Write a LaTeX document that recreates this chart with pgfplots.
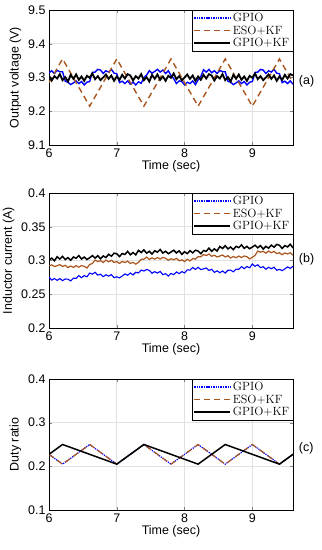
\documentclass[border=0pt]{standalone}
\usepackage{pgfplots}
\pgfplotsset{compat=1.18}
\usepackage{pgfplotstable}
\usepackage{fontspec}
\setsansfont{Liberation Sans}
\definecolor{brownc}{RGB}{170,85,30}
\definecolor{gridc}{RGB}{225,225,225}

\pgfplotstableread{
x aK aG bK bE bG
6.00 9.306 9.314 0.3006 0.2920 0.2755
6.04 9.291 9.320 0.3035 0.2936 0.2710
6.08 9.304 9.312 0.2995 0.2911 0.2733
6.12 9.297 9.321 0.3056 0.2923 0.2706
6.16 9.310 9.317 0.3021 0.2939 0.2732
6.20 9.292 9.317 0.3061 0.2911 0.2702
6.24 9.301 9.289 0.3014 0.2929 0.2726
6.28 9.288 9.286 0.3043 0.2895 0.2723
6.32 9.308 9.279 0.3003 0.2918 0.2698
6.36 9.296 9.284 0.3052 0.2898 0.2739
6.40 9.309 9.290 0.3033 0.2923 0.2735
6.44 9.293 9.282 0.3073 0.2901 0.2776
6.48 9.303 9.288 0.3022 0.2924 0.2745
6.52 9.290 9.278 0.3051 0.2914 0.2777
6.56 9.305 9.286 0.3015 0.2889 0.2758
6.60 9.299 9.288 0.3040 0.2941 0.2814
6.64 9.312 9.315 0.3072 0.2955 0.2798
6.68 9.295 9.316 0.3036 0.3007 0.2826
6.72 9.304 9.324 0.3072 0.2984 0.2783
6.76 9.292 9.322 0.3024 0.2998 0.2797
6.80 9.300 9.312 0.3068 0.2971 0.2760
6.84 9.309 9.320 0.3044 0.3006 0.2789
6.88 9.296 9.316 0.3092 0.2980 0.2768
6.92 9.306 9.324 0.3064 0.3003 0.2791
6.96 9.290 9.313 0.3108 0.2971 0.2745
7.00 9.303 9.311 0.3100 0.2985 0.2759
7.04 9.293 9.285 0.3058 0.2957 0.2742
7.08 9.308 9.289 0.3103 0.2985 0.2770
7.12 9.297 9.282 0.3089 0.2970 0.2801
7.16 9.310 9.290 0.3135 0.2991 0.2781
7.20 9.306 9.280 0.3085 0.2957 0.2815
7.24 9.291 9.286 0.3118 0.2972 0.2786
7.28 9.304 9.278 0.3084 0.2946 0.2826
7.32 9.297 9.287 0.3150 0.2973 0.2815
7.36 9.310 9.283 0.3118 0.3018 0.2858
7.40 9.292 9.299 0.3157 0.3019 0.2844
7.44 9.301 9.307 0.3109 0.3051 0.2868
7.48 9.288 9.320 0.3136 0.3016 0.2853
7.52 9.308 9.313 0.3096 0.3039 0.2811
7.56 9.296 9.318 0.3144 0.3020 0.2835
7.60 9.309 9.324 0.3123 0.3044 0.2814
7.64 9.293 9.316 0.3163 0.3022 0.2838
7.68 9.303 9.322 0.3110 0.3045 0.2790
7.72 9.290 9.312 0.3138 0.3034 0.2805
7.76 9.305 9.320 0.3101 0.3002 0.2769
7.80 9.299 9.306 0.3125 0.3026 0.2808
7.84 9.312 9.297 0.3152 0.3010 0.2791
7.88 9.295 9.282 0.3112 0.3033 0.2831
7.92 9.304 9.290 0.3143 0.2996 0.2805
7.96 9.292 9.288 0.3091 0.3010 0.2836
8.00 9.300 9.278 0.3130 0.2984 0.2816
8.04 9.309 9.286 0.3102 0.3019 0.2862
8.08 9.296 9.282 0.3146 0.2993 0.2857
8.12 9.306 9.290 0.3113 0.3029 0.2897
8.16 9.290 9.279 0.3153 0.3020 0.2868
8.20 9.303 9.293 0.3140 0.3058 0.2899
8.24 9.293 9.303 0.3100 0.3055 0.2865
8.28 9.308 9.323 0.3148 0.3088 0.2876
8.32 9.297 9.316 0.3136 0.3074 0.2890
8.36 9.310 9.324 0.3184 0.3096 0.2853
8.40 9.306 9.314 0.3136 0.3062 0.2870
8.44 9.291 9.320 0.3172 0.3078 0.2824
8.48 9.304 9.312 0.3140 0.3053 0.2847
8.52 9.297 9.321 0.3208 0.3066 0.2819
8.56 9.310 9.317 0.3178 0.3081 0.2845
8.60 9.292 9.317 0.3219 0.3053 0.2814
8.64 9.301 9.289 0.3172 0.3071 0.2855
8.68 9.288 9.286 0.3200 0.3037 0.2857
8.72 9.308 9.279 0.3161 0.3060 0.2832
8.76 9.296 9.284 0.3210 0.3041 0.2873
8.80 9.309 9.290 0.3191 0.3066 0.2869
8.84 9.293 9.282 0.3232 0.3044 0.2910
8.88 9.303 9.288 0.3180 0.3067 0.2879
8.92 9.290 9.278 0.3209 0.3056 0.2911
8.96 9.305 9.286 0.3174 0.3024 0.2892
9.00 9.299 9.288 0.3199 0.3048 0.2948
9.04 9.312 9.315 0.3227 0.3075 0.2914
9.08 9.295 9.316 0.3188 0.3140 0.2937
9.12 9.304 9.324 0.3221 0.3123 0.2894
9.16 9.292 9.322 0.3170 0.3136 0.2908
9.20 9.300 9.312 0.3210 0.3108 0.2871
9.24 9.309 9.320 0.3183 0.3141 0.2900
9.28 9.296 9.316 0.3228 0.3114 0.2878
9.32 9.306 9.324 0.3197 0.3136 0.2901
9.36 9.290 9.313 0.3238 0.3102 0.2855
9.40 9.303 9.311 0.3226 0.3115 0.2869
9.44 9.293 9.285 0.3179 0.3086 0.2850
9.48 9.308 9.289 0.3220 0.3112 0.2876
9.52 9.297 9.282 0.3201 0.3096 0.2905
9.56 9.310 9.290 0.3241 0.3116 0.2883
9.60 9.306 9.280 0.3186 0.3080 0.2915
}\data

\tikzset{lab/.style={anchor=west, font=\sffamily\fontsize{12.5}{14}\selectfont}}
\pgfplotsset{
  panel/.style={
    scale only axis, width=244bp, height=135bp,
    xmin=6, xmax=9.6, xtick={6,7,8,9},
    clip mode=individual,
    font=\sffamily\fontsize{12.5}{14}\selectfont,
    tick label style={font=\sffamily\fontsize{12.5}{14}\selectfont},
    /pgf/number format/assume math mode=true,
    tick align=inside, major tick length=3bp,
    grid=major, major grid style={gridc, line width=0.6pt},
    axis line style={line width=0.6pt},
    xlabel={Time (sec)},
    xlabel style={yshift=4bp},
    legend style={at={(rel axis cs:1,1)}, anchor=north east,
      font=\rmfamily\fontsize{12}{13}\selectfont, draw=black,
      inner xsep=1.5pt, inner ysep=1pt, row sep=-1.5pt, cells={anchor=west}},
    legend image code/.code={\draw[##1, line width=1.7pt] (0bp,0bp) -- (36bp,0bp);},
  },
  gpio/.style={blue, densely dotted, line width=1.4pt},
  eso/.style={brownc, dash pattern=on 6bp off 4bp, line width=1.4pt},
  kf/.style={black, line width=1.5pt},
}

\begin{document}
\begin{tikzpicture}
\path[use as bounding box] (0,0) rectangle (322bp,-550bp);

\begin{axis}[panel, at={(49bp,-10bp)}, anchor=north west,
  ymin=9.1, ymax=9.5, ytick={9.1,9.2,9.3,9.4,9.5},
  yticklabels={9.1,9.2,9.3,9.4,9.5},
  ylabel={Output voltage (V)}]
\addlegendimage{gpio}
\addlegendentry{GPIO}
\addlegendimage{eso}
\addlegendentry{ESO+KF}
\addlegendimage{kf}
\addlegendentry{GPIO+KF}
\addplot[blue, line width=1.4pt, forget plot] table[x=x,y=aG]{\data};
\addplot[eso, forget plot] coordinates {(6,9.285) (6.2,9.355) (6.6,9.215) (7.0,9.355) (7.4,9.215) (7.8,9.355) (8.2,9.215) (8.6,9.355) (9.0,9.215) (9.4,9.355) (9.6,9.285)};
\addplot[black, line width=1.8pt, forget plot] table[x=x,y=aK]{\data};
\node[lab] at (rel axis cs:1.01,0.47) {(a)};
\end{axis}

\begin{axis}[panel, at={(49bp,-193bp)}, anchor=north west,
  ymin=0.2, ymax=0.4, ytick={0.2,0.25,0.3,0.35,0.4},
  yticklabels={0.2,0.25,0.3,0.35,0.4},
  ylabel={Inductor current (A)}]
\addlegendimage{gpio}
\addlegendentry{GPIO}
\addlegendimage{eso}
\addlegendentry{ESO+KF}
\addlegendimage{kf}
\addlegendentry{GPIO+KF}
\addplot[blue, line width=1.1pt, forget plot] table[x=x,y=bG]{\data};
\addplot[brownc, line width=1.2pt, forget plot] table[x=x,y=bE]{\data};
\addplot[black, line width=1.5pt, forget plot] table[x=x,y=bK]{\data};
\node[lab] at (rel axis cs:1.01,0.51) {(b)};
\end{axis}

\begin{axis}[panel, at={(49bp,-379bp)}, anchor=north west, height=131bp,
  ymin=0.1, ymax=0.4, ytick={0.1,0.2,0.3,0.4},
  yticklabels={0.1,0.2,0.3,0.4},
  ylabel={Duty ratio}]
\addlegendimage{gpio}
\addlegendentry{GPIO}
\addlegendimage{eso}
\addlegendentry{ESO+KF}
\addlegendimage{kf}
\addlegendentry{GPIO+KF}
\addplot[gpio, line width=1.2pt, forget plot] coordinates {(6,0.2275) (6.2,0.205) (6.6,0.25) (7.0,0.205) (7.4,0.25) (7.8,0.205) (8.2,0.25) (8.6,0.205) (9.0,0.25) (9.4,0.205) (9.6,0.2275)};
\addplot[eso, line width=1.2pt, forget plot] coordinates {(6,0.2275) (6.2,0.205) (6.6,0.25) (7.0,0.205) (7.4,0.25) (7.8,0.205) (8.2,0.25) (8.6,0.205) (9.0,0.25) (9.4,0.205) (9.6,0.2275)};
\addplot[kf, forget plot] coordinates {(6,0.2275) (6.2,0.25) (7.0,0.205) (7.4,0.25) (8.2,0.205) (8.6,0.25) (9.4,0.205) (9.6,0.2275)};
\node[lab] at (rel axis cs:1.01,0.47) {(c)};
\end{axis}
\end{tikzpicture}
\end{document}
